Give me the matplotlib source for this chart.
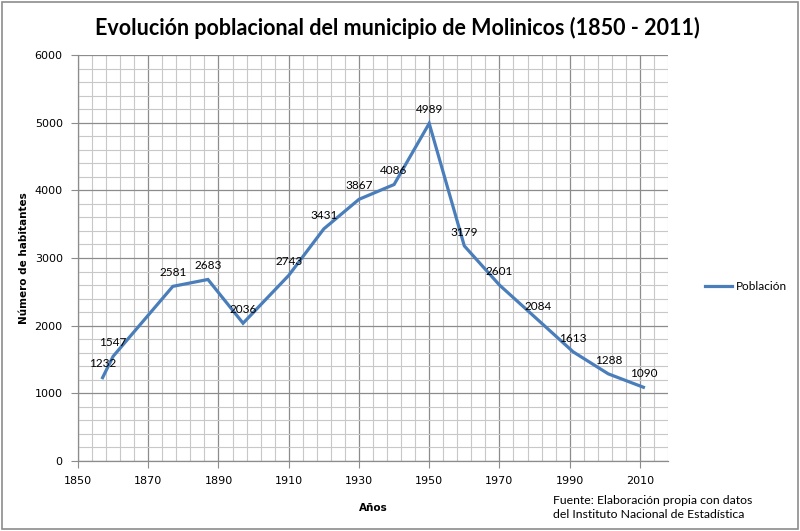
import matplotlib
matplotlib.use("Agg")
import matplotlib.pyplot as plt
from matplotlib.patches import Rectangle

years = [1857, 1860, 1877, 1887, 1897, 1910, 1920, 1930, 1940, 1950,
         1960, 1970, 1981, 1991, 2001, 2011]
poblacion = [1232, 1547, 2581, 2683, 2036, 2743, 3431, 3867, 4086, 4989,
             3179, 2601, 2084, 1613, 1288, 1090]

title = "Evolución poblacional del municipio de Molinicos (1850 - 2011)"
fuente = "Fuente: Elaboración propia con datos\ndel Instituto Nacional de Estadística"

fig = plt.figure(figsize=(8, 5.31), dpi=100)
ax = fig.add_axes([0.0975, 0.1318, 0.7375, 0.7646])

line_color = "#4A7EBB"
ax.plot(years, poblacion, color=line_color, linewidth=2.3, label="Población",
        solid_joinstyle="miter", zorder=3)

# etiquetas de datos encima de cada punto
for x, y in zip(years, poblacion):
    ax.annotate(str(y), (x, y), xytext=(0, 6), textcoords="offset points",
                ha="center", va="bottom", fontsize=8.5, family="Lato", zorder=4)

ax.set_xlim(1850, 2018)
ax.set_ylim(0, 6000)
ax.set_xticks(range(1850, 2018, 20))
ax.set_xticks(range(1850, 2019, 4), minor=True)
ax.set_yticks(range(0, 6001, 1000))
ax.set_yticks(range(0, 6001, 200), minor=True)

ax.grid(which="major", color="#8C8C8C", linewidth=0.9, zorder=1)
ax.grid(which="minor", color="#C8C8C8", linewidth=0.8, zorder=1)
ax.set_axisbelow(True)

for s in ["top", "right"]:
    ax.spines[s].set_visible(False)
for s in ["left", "bottom"]:
    ax.spines[s].set_color("#8C8C8C")
    ax.spines[s].set_linewidth(0.9)

ax.tick_params(which="major", direction="out", length=5, color="#8C8C8C",
               labelsize=8, pad=6)
ax.tick_params(which="minor", length=0)

ax.set_xlabel("Años", fontsize=7.5, fontweight="bold", labelpad=12)
ax.set_ylabel("Número de habitantes", fontsize=7.5, fontweight="bold", labelpad=4)

fig.text(0.497, 0.948, title, ha="center", va="center", fontsize=15.5,
         fontweight="bold", family="Lato")
fig.text(0.691, 0.068, fuente, ha="left", va="top", fontsize=8.8,
         family="Lato", linespacing=1.3)

leg = ax.legend(loc="center left", bbox_to_anchor=(1.045, 0.43), frameon=False,
                handlelength=2.3, handletextpad=0.3, prop={"family": "Lato", "size": 8.5})

fig.patches.append(Rectangle((0.002, 0.003), 0.996, 0.994, transform=fig.transFigure,
                             fill=False, edgecolor="#8C8C8C", linewidth=1.2))

fig.savefig("out.png", dpi=100)
